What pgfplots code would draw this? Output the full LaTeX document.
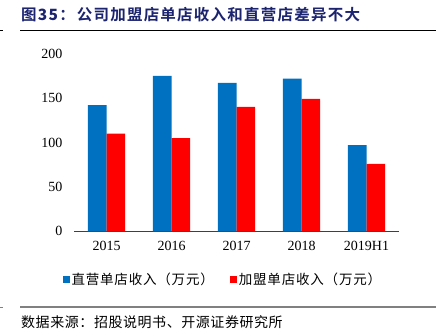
\documentclass[border=0pt]{standalone}
\usepackage{pgfplots}
\pgfplotsset{compat=1.18}
\usepackage{fontspec}
\setmainfont{Liberation Serif}
\newfontfamily\cjk{Noto Sans CJK SC}
\newfontfamily\cjkleg[LetterSpace=6]{Noto Sans CJK SC}
\newfontfamily\cjksrc[LetterSpace=4]{Noto Sans CJK SC}
\newfontfamily\cjkb[LetterSpace=8]{Noto Sans CJK SC Bold}
\definecolor{barblue}{RGB}{0,112,192}
\definecolor{barred}{RGB}{255,0,0}
\definecolor{titlenavy}{RGB}{28,36,112}
\definecolor{axgray}{RGB}{64,64,64}
\begin{document}
\begin{tikzpicture}[x=1pt,y=1pt]
\path[use as bounding box] (0,0) rectangle (436,336);
% title
\node[anchor=west, inner sep=0pt, text=titlenavy] at (21,321) {\fontsize{15.5}{17}\selectfont\cjkb 图\textbf{35}：\hspace{2pt}公司加盟店单店收入和直营店差异不大};
\draw[black, line width=0.9pt] (20,305.5) -- (436,305.5);
\draw[black, line width=0.8pt] (0,305.5) -- (3,305.5);
% source
\draw[gray, line width=1.6pt] (20,29) -- (436,29);
\draw[gray, line width=0.8pt] (0,29) -- (3,29);
\node[anchor=west, inner sep=0pt] at (21,14) {\fontsize{14}{16}\selectfont\cjksrc 数据来源：招股说明书、开源证券研究所};
\begin{axis}[
  at={(74pt,104.7pt)}, anchor=south west,
  scale only axis, width=325pt, height=177.6pt,
  xmin=-0.5, xmax=4.5, ymin=0, ymax=200,
  ybar, bar width=0.288,
  axis x line=bottom, axis y line=left,
  x axis line style={draw=axgray, line width=1.2pt, -},
  y axis line style={draw=none},
  xtick={0,1,2,3,4},
  xticklabels={2015,2016,2017,2018,2019H1},
  xtick style={draw=none},
  extra x ticks={-0.5,0.5,1.5,2.5,3.5,4.5},
  extra x tick labels={},
  extra x tick style={tick style={draw=axgray, line width=0.8pt}, major tick length=5pt, tick align=inside},
  ytick={0,50,100,150,200},
  ytick style={draw=none},
  tick label style={font=\fontsize{14}{16}\selectfont},
  yticklabel style={xshift=-6pt},
  xticklabel style={yshift=-4pt},
  /pgf/number format/assume math mode=true,
  legend style={at={(0.458,-0.274)}, anchor=center, draw=none, fill=none,
    legend columns=2, font=\fontsize{13.5}{16}\selectfont\cjkleg,
    /tikz/every even column/.append style={column sep=14pt},
    inner sep=0pt},
  legend image code/.code={\fill[#1] (0pt,-3.5pt) rectangle (7pt,3.5pt);},
  clip=false,
]
\addplot[fill=barblue, draw=none, bar shift=-0.144] coordinates {(0,142) (1,175) (2,167) (3,172) (4,97)};
\addplot[fill=barred, draw=none, bar shift=0.144] coordinates {(0,110) (1,105) (2,140) (3,149) (4,76)};
\legend{直营单店收入（万元）,加盟单店收入（万元）}
\end{axis}
\end{tikzpicture}
\end{document}
